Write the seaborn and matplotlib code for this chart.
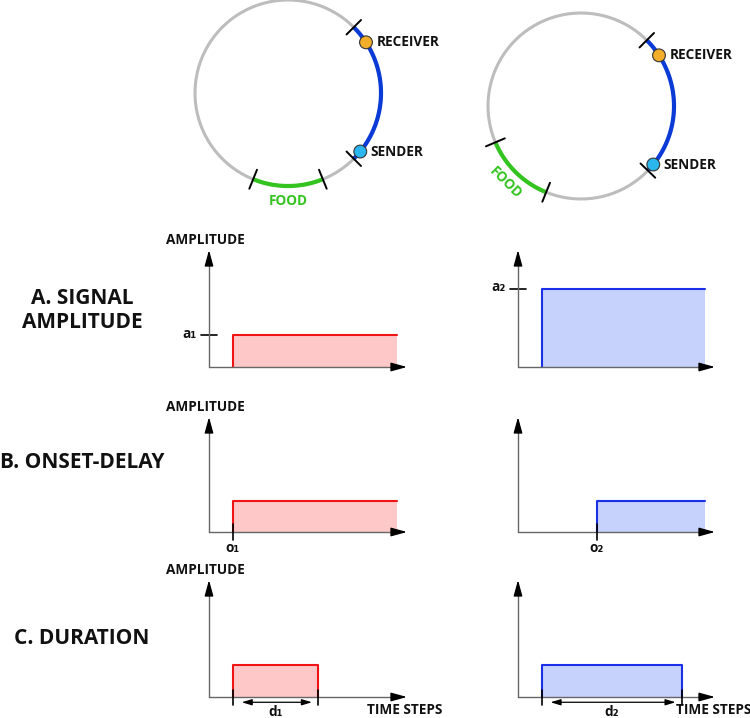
"""
Sender / receiver ring schematic with three signal-encoding panels.
"""

import numpy as np
import matplotlib.pyplot as plt
import seaborn as sns

sns.set_theme(style="white")
plt.rcParams["font.family"] = ["Open Sans", "DejaVu Sans"]
plt.rcParams["text.color"] = "#111111"

W, H, DPI = 750, 718, 100

# --- ring data (angles in degrees, 0 = east, counter-clockwise) ---
ring_center = [(288, 93), (581, 106)]     # layout, px
ring_radius = 93                           # layout, px
channel_start = [-45, -44]
channel_end = [45, 45]
food_start = [-112, -157]
food_end = [-68, -112]
receiver_angle = [33, 33]
sender_angle = [-39, -39]

# --- signal data, one entry per row (A, B, C) ---
row_titles = ["A. SIGNAL\nAMPLITUDE", "B. ONSET-DELAY", "C. DURATION"]
onset_1 = [1.2, 1.2, 1.2]
offset_1 = [9.5, 9.5, 5.5]
amp_1 = [2.7, 2.7, 2.7]
onset_2 = [1.2, 4.0, 1.2]
offset_2 = [9.5, 9.5, 8.3]
amp_2 = [6.7, 2.7, 2.7]

# colours
RING_GRAY = "#bdbdbd"
CHANNEL_BLUE = "#0b3bd6"
FOOD_GREEN = "#33c41f"
RECEIVER_COL = "#f2ad2a"
SENDER_COL = "#2ab6ee"
AXIS_GRAY = "#666666"
RED_EDGE, RED_FILL = "#f01414", "#ffc8c8"
BLUE_EDGE, BLUE_FILL = "#1a30e8", "#c6d2fb"
FS = 9.8

fig = plt.figure(figsize=(W / DPI, H / DPI), dpi=DPI)


def px_axes(x0, y_top, w, h):
    """Axes placed by pixel box (origin top-left)."""
    return fig.add_axes([x0 / W, 1 - (y_top + h) / H, w / W, h / H])


def arc(ax, a0, a1, **kw):
    t = np.radians(np.linspace(a0, a1, 100))
    ax.plot(np.cos(t), np.sin(t), solid_capstyle="butt", **kw)


def radial_tick(ax, ang):
    t = np.radians(ang)
    r = np.array([0.89, 1.11])
    ax.plot(r * np.cos(t), r * np.sin(t), color="black", lw=1.4)


def draw_ring(i):
    cx, cy = ring_center[i]
    half = 1.4 * ring_radius
    ax = px_axes(cx - half, cy - half, 2 * half, 2 * half)
    ax.set_xlim(-1.4, 1.4)
    ax.set_ylim(-1.4, 1.4)
    ax.axis("off")

    arc(ax, 0, 360, color=RING_GRAY, lw=2.2)
    arc(ax, channel_start[i], channel_end[i], color=CHANNEL_BLUE, lw=3.0)
    arc(ax, food_start[i], food_end[i], color=FOOD_GREEN, lw=3.0)
    for a in (channel_start[i], channel_end[i], food_start[i], food_end[i]):
        radial_tick(ax, a)

    angs = np.radians([receiver_angle[i], sender_angle[i]])
    sns.scatterplot(x=np.cos(angs), y=np.sin(angs), hue=["r", "s"],
                    palette=[RECEIVER_COL, SENDER_COL], s=85,
                    edgecolor="#333333", linewidth=0.8, legend=False,
                    zorder=5, ax=ax)
    ax.text(np.cos(angs[0]) + 0.12, np.sin(angs[0]), "RECEIVER",
            fontsize=FS, fontweight="bold", ha="left", va="center")
    ax.text(np.cos(angs[1]) + 0.11, np.sin(angs[1]), "SENDER",
            fontsize=FS, fontweight="bold", ha="left", va="center")

    mid = np.radians((food_start[i] + food_end[i]) / 2)
    rot = np.degrees(mid) + 90
    ax.text(1.16 * np.cos(mid), 1.16 * np.sin(mid), "FOOD", color=FOOD_GREEN,
            fontsize=FS, fontweight="bold", ha="center", va="center",
            rotation=rot if abs(rot) > 1 else 0, rotation_mode="anchor")


def axis_arrows(ax):
    ax.plot([0, 9.5], [0, 0], color=AXIS_GRAY, lw=1, zorder=4, clip_on=False)
    ax.plot([0, 0], [0, 9.5], color=AXIS_GRAY, lw=1, zorder=4, clip_on=False)
    style = dict(arrowstyle="-|>,head_length=0.8,head_width=0.22",
                 color="black", lw=1, shrinkA=0, shrinkB=0)
    ax.annotate("", xy=(10, 0), xytext=(9.4, 0), arrowprops=style,
                annotation_clip=False, zorder=5)
    ax.annotate("", xy=(0, 10), xytext=(0, 9.4), arrowprops=style,
                annotation_clip=False, zorder=5)


def draw_signal(ax, onset, offset, amp, edge, fill, closed):
    ax.set_xlim(0, 10)
    ax.set_ylim(0, 10)
    ax.axis("off")
    ax.fill_between([onset, offset], 0, amp, color=fill, lw=0)
    xs = [onset, onset, offset] + ([offset] if closed else [])
    ys = [0, amp, amp] + ([0] if closed else [])
    sns.lineplot(x=xs, y=ys, sort=False, estimator=None, color=edge,
                 lw=1.5, ax=ax)
    axis_arrows(ax)


row_origin = [367, 532, 697]
row_top = [250, 417, 580]
col_origin = [209, 518]
col_width = [198, 197]

for i in range(2):
    draw_ring(i)

for r in range(3):
    for c in range(2):
        ax = px_axes(col_origin[c], row_top[r], col_width[c],
                     row_origin[r] - row_top[r])
        onset = [onset_1, onset_2][c][r]
        offset = [offset_1, offset_2][c][r]
        amp = [amp_1, amp_2][c][r]
        edge, fill = [(RED_EDGE, RED_FILL), (BLUE_EDGE, BLUE_FILL)][c]
        draw_signal(ax, onset, offset, amp, edge, fill, closed=(r == 2))
        sub = "₁" if c == 0 else "₂"

        if c == 0:
            ax.text(-0.2, 10.85, "AMPLITUDE", fontsize=FS, fontweight="bold",
                    ha="center", va="center", clip_on=False)

        if r == 0:
            ax.plot([-0.4, 0.4], [amp, amp], color="black", lw=1.2,
                    clip_on=False)
            ax.text(-0.6, amp + 0.1, "a" + sub, fontsize=FS,
                    fontweight="bold", ha="right", va="center")
        elif r == 1:
            ax.plot([onset, onset], [-0.7, 0.7], color="black", lw=1.2,
                    clip_on=False, zorder=6)
            ax.text(onset, -1.4, "o" + sub, fontsize=FS, fontweight="bold",
                    ha="center", va="center")
        else:
            for x in (onset, offset):
                ax.plot([x, x], [-0.7, 0.6], color="black", lw=1.2,
                        clip_on=False, zorder=6)
            ax.annotate("", xy=(offset - 0.3, -0.45),
                        xytext=(onset + 0.45, -0.45),
                        arrowprops=dict(arrowstyle="<|-|>,head_length=0.5,head_width=0.15",
                                        color="black", lw=0.9, shrinkA=0,
                                        shrinkB=0),
                        annotation_clip=False)
            ax.text((onset + offset) / 2, -1.3, "d" + sub, fontsize=FS,
                    fontweight="bold", ha="center", va="center")
            ax.text(8.0, -1.15, "TIME STEPS", fontsize=FS, fontweight="bold",
                    ha="left", va="center")

title_y = [310.5, 462, 639]
for r, t in enumerate(row_titles):
    fig.text(82 / W, 1 - title_y[r] / H, t, fontsize=15, fontweight="bold",
             ha="center", va="center", linespacing=1.2)

fig.savefig("out.png", dpi=DPI)
plt.close(fig)
